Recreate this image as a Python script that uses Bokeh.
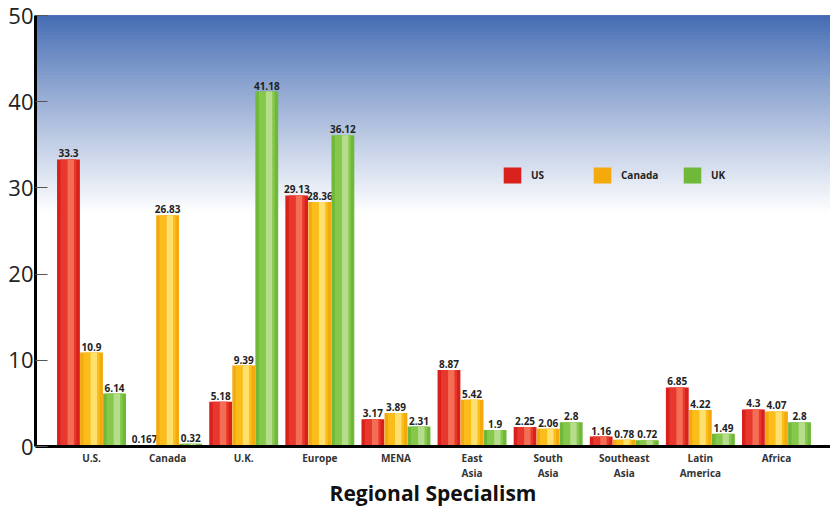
import numpy as np
from bokeh.plotting import figure
from bokeh.models import Range1d, FixedTicker, BoxAnnotation, Legend, LegendItem, ColumnDataSource
from bokeh.core.properties import value
from bokeh.embed import file_html
from bokeh.resources import INLINE

# ---- data ----
regions = ["U.S.", "Canada", "U.K.", "Europe", "MENA", "East\nAsia", "South\nAsia",
           "Southeast\nAsia", "Latin\nAmerica", "Africa"]
series = ["US", "Canada", "UK"]
us_vals = [33.3, 0.167, 5.18, 29.13, 3.17, 8.87, 2.25, 1.16, 6.85, 4.3]
canada_vals = [10.9, 26.83, 9.39, 28.36, 3.89, 5.42, 2.06, 0.78, 4.22, 4.07]
uk_vals = [6.14, 0.32, 41.18, 36.12, 2.31, 1.9, 2.8, 0.72, 1.49, 2.8]
y_ticks = [0, 10, 20, 30, 40, 50]

# ---- styling ----
base_cols = ["#d8201c", "#f4a90c", "#6fb83a"]
mid_cols = ["#e8372c", "#fbbd1c", "#86c84c"]
hi_cols = ["#f46e55", "#fde06e", "#b5dd8b"]
offsets = [-0.303, 0.0, 0.303]
bar_w = 0.30
FONT = "Open Sans"

p = figure(width=830, height=511, output_backend="svg", toolbar_location=None,
           x_range=Range1d(-0.736, 9.71), y_range=Range1d(0, 50),
           min_border_left=35, min_border_right=0, min_border_top=15, min_border_bottom=65,
           background_fill_color="white", border_fill_color="white")
p.outline_line_color = None
p.grid.visible = False

# background gradient (blue at top fading to white); overlapping bands avoid seams
top = np.array([66, 106, 178])
n = 60
y_hi, y_lo = 50.0, 27.0
for k in range(n - 1, -1, -1):
    b_bot = y_hi - (y_hi - y_lo) * (k + 1) / n
    t = (k + 0.5) / n
    c = top + (np.array([255, 255, 255]) - top) * (t ** 0.9)
    col = "#%02x%02x%02x" % tuple(int(round(v)) for v in c)
    p.add_layout(BoxAnnotation(bottom=b_bot, top=y_hi, fill_color=col, fill_alpha=1.0,
                               line_color=None, level="underlay"))

idx = np.arange(len(regions))
legend_items = []
for s, vals, off, bc, mc, hc in zip(series, [us_vals, canada_vals, uk_vals], offsets,
                                    base_cols, mid_cols, hi_cols):
    src = ColumnDataSource(dict(x=idx + off, top=vals, lab=[str(v) for v in vals]))
    r = p.vbar(x="x", top="top", width=bar_w, source=src, fill_color=bc, line_color=None)
    p.vbar(x="x", top="top", width=bar_w * 0.7, source=src, fill_color=mc, line_color=None)
    src2 = ColumnDataSource(dict(x=idx + off + 0.03, top=vals))
    p.vbar(x="x", top="top", width=bar_w * 0.28, source=src2, fill_color=hc, line_color=None)
    p.text(x="x", y="top", text="lab", source=src, text_align="center", text_baseline="bottom",
           y_offset=-2, text_font=value(FONT), text_font_size="10px", text_font_style="bold",
           text_color="#222222")
    legend_items.append(LegendItem(label=s, renderers=[r]))

legend = Legend(items=legend_items, orientation="horizontal", location=(466, 261),
                glyph_width=22, glyph_height=20, label_standoff=8, label_width=55, spacing=5,
                padding=0, margin=0, border_line_color=None, background_fill_alpha=0,
                label_text_font=FONT, label_text_font_size="10px", label_text_font_style="bold",
                label_text_color="#222222")
p.add_layout(legend, "center")

# axes
p.yaxis.ticker = FixedTicker(ticks=y_ticks)
p.yaxis.axis_line_width = 3
p.yaxis.axis_line_color = "black"
p.yaxis.major_tick_in = 12
p.yaxis.major_tick_out = 0
p.yaxis.major_tick_line_color = "#555555"
p.yaxis.minor_tick_line_color = None
p.yaxis.major_label_standoff = 2
p.yaxis.major_label_text_font = FONT
p.yaxis.major_label_text_font_size = "22px"
p.yaxis.major_label_text_color = "#222222"

p.xaxis.ticker = FixedTicker(ticks=list(range(len(regions))))
p.xaxis.major_label_overrides = {i: r for i, r in enumerate(regions)}
p.xaxis.axis_line_width = 3
p.xaxis.axis_line_color = "black"
p.xaxis.major_tick_line_color = None
p.xaxis.major_tick_in = 0
p.xaxis.major_tick_out = 0
p.xaxis.minor_tick_line_color = None
p.xaxis.minor_tick_in = 0
p.xaxis.minor_tick_out = 0
p.xaxis.major_label_standoff = 4
p.xaxis.major_label_text_font = FONT
p.xaxis.major_label_text_font_size = "10px"
p.xaxis.major_label_text_line_height = 1.1
p.xaxis.major_label_text_font_style = "bold"
p.xaxis.major_label_text_color = "#333333"
p.xaxis.axis_label = "Regional Specialism"
p.xaxis.axis_label_standoff = -4
p.xaxis.axis_label_text_font = FONT
p.xaxis.axis_label_text_font_size = "21px"
p.xaxis.axis_label_text_font_style = "bold"
p.xaxis.axis_label_text_color = "#111111"

open("out.html", "w").write(file_html(p, INLINE))
